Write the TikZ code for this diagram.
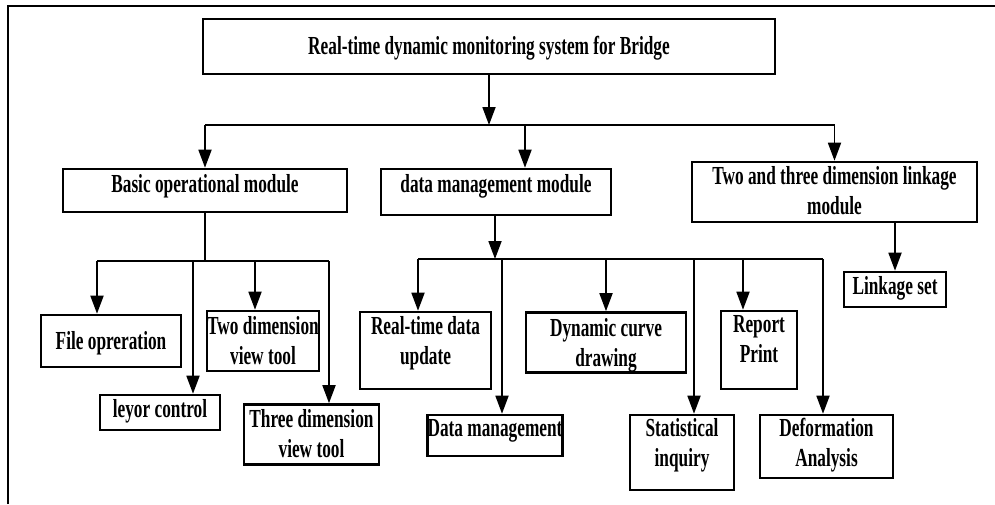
\documentclass[tikz,border=0pt]{standalone}
\usepackage{fontspec}
\setmainfont{Liberation Serif}[FakeStretch=0.665]
\usetikzlibrary{arrows.meta}
\newcommand{\tx}[2]{\raisebox{#1pt}[\height][\depth]{\begin{tabular}{@{}c@{}}#2\end{tabular}}}
\begin{document}
\begin{tikzpicture}[x=1pt,y=-1pt,
  font=\fontsize{26}{30}\selectfont\bfseries,
  bx/.style={draw, line width=2.6pt, inner sep=0pt},
  conn/.style={line width=1.8pt},
  arr/.style={conn, -{Triangle[length=18pt,width=13pt]}},
  frame/.style={line width=1.8pt}]
\useasboundingbox (0,0) rectangle (995,504);
\draw[frame] (8,504) -- (8,6) -- (995,6);

% boxes
\node[bx, minimum width=572pt, minimum height=55pt] (top) at (489,46.5) {\tx{-2.4}{Real-time dynamic monitoring system for Bridge}};
\node[bx, minimum width=284pt, minimum height=43pt] (basic) at (205,190.5) {\tx{3.6}{Basic operational module}};
\node[bx, minimum width=230pt, minimum height=46pt] (dmm) at (496,192) {\tx{5.1}{data management module}};
\node[bx, minimum width=285pt, minimum height=56pt] (ttl) at (834.5,192) {\tx{-1.7}{Two and three dimension linkage\\module}};
\node[bx, minimum width=140pt, minimum height=52pt] (file) at (111,341) {\tx{-2.9}{File opreration}};
\node[bx, minimum width=120pt, minimum height=35pt] (leyor) at (160,412.5) {\tx{0.9}{leyor control}};
\node[bx, minimum width=112pt, minimum height=58pt] (twod) at (263,341) {\tx{-2.7}{Two dimension\\view tool}};
\node[bx, minimum width=135pt, minimum height=59pt] (threed) at (311.5,434.5) {\tx{-2.2}{Three dimension\\view tool}};
\node[bx, minimum width=131pt, minimum height=77pt] (rtd) at (425.5,350.5) {\tx{6.8}{Real-time data\\update}};
\node[bx, minimum width=132pt, minimum height=41pt] (dm) at (495,435.5) {\tx{4.9}{Data management}};
\node[bx, minimum width=160pt, minimum height=55pt] (dcd) at (606,342.5) {\tx{-2.9}{Dynamic curve\\drawing}};
\node[bx, minimum width=104pt, minimum height=75pt] (si) at (682,452.5) {\tx{7.1}{Statistical\\inquiry}};
\node[bx, minimum width=76pt, minimum height=78pt] (rp) at (759,350) {\tx{8.3}{Report\\Print}};
\node[bx, minimum width=133pt, minimum height=63pt] (da) at (826.5,446.5) {\tx{1.1}{Deformation\\Analysis}};
\node[bx, minimum width=102pt, minimum height=35pt] (ls) at (895,289.5) {\tx{0.6}{Linkage set}};

% level 1 bus
\coordinate (b1L) at (205,125);
\coordinate (b1R) at (834.5,125);
\coordinate (b1M) at (489,125);
\coordinate (b1D) at (525,125);
\draw[arr] (top.south) -- (b1M);
\draw[conn] (b1L) -- (b1R);
\draw[arr] (b1L) -- (basic.north);
\draw[arr] (b1D) -- (b1D |- dmm.north);
\draw[arr] (b1R) -- (ttl.north);

% basic operational bus
\coordinate (b2M) at (205,261);
\coordinate (b2L) at (97,261);
\coordinate (b2R) at (329,261);
\coordinate (b2a) at (193,261);
\coordinate (b2b) at (255,261);
\draw[conn] (basic.south) -- (b2M);
\draw[conn] (b2L) -- (b2R);
\draw[arr] (b2L) -- (b2L |- file.north);
\draw[arr] (b2a) -- (b2a |- leyor.north);
\draw[arr] (b2b) -- (b2b |- twod.north);
\draw[arr] (b2R) -- (b2R |- threed.north);

% data management bus
\coordinate (b3M) at (495,259);
\coordinate (b3L) at (418,259);
\coordinate (b3R) at (823,259);
\coordinate (c1) at (502,259);
\coordinate (c2) at (606,259);
\coordinate (c3) at (694,259);
\coordinate (c4) at (743,259);
\draw[arr] (b3M |- dmm.south) -- (b3M);
\draw[conn] (b3L) -- (b3R);
\draw[arr] (b3L) -- (b3L |- rtd.north);
\draw[arr] (c1) -- (c1 |- dm.north);
\draw[arr] (c2) -- (c2 |- dcd.north);
\draw[arr] (c3) -- (c3 |- si.north);
\draw[arr] (c4) -- (c4 |- rp.north);
\draw[arr] (b3R) -- (b3R |- da.north);

% linkage
\draw[arr] (ls.north |- ttl.south) -- (ls.north);
\end{tikzpicture}
\end{document}
